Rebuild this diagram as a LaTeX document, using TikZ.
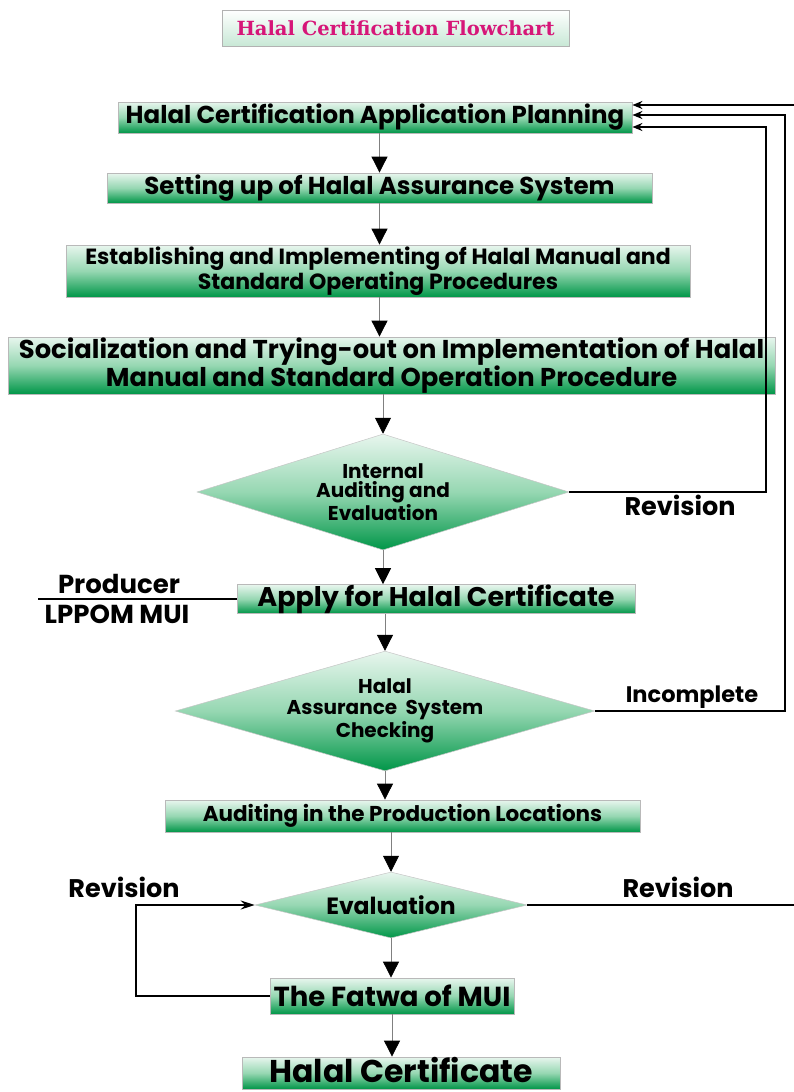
\documentclass[tikz,border=0pt]{standalone}
\usepackage{fontspec}
\setmainfont{Poppins}
\newfontfamily\titlefont{DejaVu Serif}
\usetikzlibrary{shapes.geometric,arrows.meta}
\definecolor{paleg}{RGB}{232,246,238}
\definecolor{midg}{RGB}{150,215,178}
\definecolor{darkg}{RGB}{0,150,72}
\definecolor{titlepink}{RGB}{214,22,120}
\definecolor{titleg}{RGB}{200,232,214}
\newcommand{\fsz}[2]{\bfseries\fontsize{#1}{#2}\selectfont}
\tikzset{
  stepbox/.style={draw=gray!55, line width=0.8pt, top color=paleg, bottom color=darkg, middle color=midg, inner sep=0pt, align=center},
  decision/.style={diamond, draw=gray!45, line width=0.5pt, top color=paleg, bottom color=darkg, middle color=midg, inner sep=0pt, align=center},
  flow/.style={draw=gray, line width=0.8pt, -{Triangle[length=16pt,width=16pt,color=black]}},
  back/.style={draw=black, line width=1.6pt, -{Stealth[length=10pt,width=8pt]}},
  lbl/.style={inner sep=0pt},
}

\begin{document}
\begin{tikzpicture}[x=1pt,y=-1pt]
\useasboundingbox[fill=white] (0,0) rectangle (793,1092);

\node[draw=gray!60, line width=0.8pt, top color=white, bottom color=titleg, minimum width=347, minimum height=36, inner sep=0pt,
      text=titlepink, font=\titlefont\bfseries\fontsize{19.5}{23}\selectfont] (title) at (395.5,28) {Halal Certification Flowchart};

% main chain
\node[stepbox, minimum width=514, minimum height=31, font=\fsz{24.5}{28}] (plan) at (375,117.5) {Halal Certification Application Planning};
\node[stepbox, minimum width=545, minimum height=30, font=\fsz{24.5}{28}] (setup) at (379.5,188) {Setting up of Halal Assurance System};
\node[stepbox, minimum width=624, minimum height=52, font=\fsz{22}{23}] (manual) at (378,271)
  {Establishing and Implementing of Halal Manual and\\Standard Operating Procedures};
\node[stepbox, minimum width=767, minimum height=57, font=\fsz{25.8}{25}] (social) at (391.5,365.5)
  {Socialization and Trying-out on Implementation of Halal\\Manual and Standard Operation Procedure};
\node[decision, shape aspect=3.2, minimum width=372, minimum height=116, font=\fsz{20}{19}] (internal) at (383,492)
  {Internal\\Auditing and\\Evaluation};
\node[stepbox, minimum width=398, minimum height=28, font=\fsz{27}{30}] (apply) at (436,599) {Apply for Halal Certificate};
\node[decision, shape aspect=3.5, minimum width=418, minimum height=118, font=\fsz{20}{21}] (check) at (385,711)
  {Halal\\Assurance~ System\\Checking};
\node[stepbox, minimum width=475, minimum height=32, font=\fsz{21.5}{25}] (audit) at (402.5,816) {Auditing in the Production Locations};
\node[decision, shape aspect=4.1, minimum width=272, minimum height=66, font=\fsz{23.5}{27}] (eval) at (391,905) {Evaluation};
\node[stepbox, minimum width=244, minimum height=36, font=\fsz{27.5}{31}] (fatwa) at (392,996) {The Fatwa of MUI};
\node[stepbox, minimum width=318, minimum height=32, text height=22, text depth=3, font=\fsz{31.5}{36}] (cert) at (401,1073) {Halal Certificate};

% labels
\node[lbl, font=\fsz{26}{30}] (producer) at (119,584) {Producer};
\node[lbl, font=\fsz{26}{30}] (lppom) at (117,614) {LPPOM MUI};
\node[lbl, font=\fsz{25.5}{30}] (rev1) at (680,505) {Revision};
\node[lbl, font=\fsz{22.5}{26}] (incomplete) at (692,697) {Incomplete};
\node[lbl, font=\fsz{25.5}{30}] (rev2) at (124,887) {Revision};
\node[lbl, font=\fsz{25.5}{30}] (rev3) at (678,887) {Revision};

\draw[flow] (plan.south -| setup) -- (setup.north);
\draw[flow] (setup.south) -- (setup.south |- manual.north);
\draw[flow] (setup.south |- manual.south) -- (setup.south |- social.north);
\draw[flow] (internal.north |- social.south) -- (internal.north);
\draw[flow] (internal.south) -- (internal.south |- apply.north);
\draw[flow] (check.north |- apply.south) -- (check.north);
\draw[flow] (check.south) -- (check.south |- audit.north);
\draw[flow] (eval.north |- audit.south) -- (eval.north);
\draw[flow] (eval.south) -- (eval.south |- fatwa.north);
\draw[flow] (fatwa.south) -- (fatwa.south |- cert.north);

% feedback loops
\coordinate (r1) at (766,127);
\coordinate (r2) at (785,115);
\coordinate (r3) at (800,105);
\coordinate (l1) at (136,905);
\coordinate (pl) at (38,599);
\draw[back] (internal.east) -| (r1) -- (r1 -| plan.east);
\draw[back] (check.east) -| (r2) -- (r2 -| plan.east);
\draw[back] (eval.east) -| (r3) -- (r3 -| plan.east);
\draw[back, -{Stealth[length=14pt,width=9pt]}] (fatwa.west) -| (l1) -- (eval.west);
\draw[line width=1.6pt] (pl) -- (apply.west);
\end{tikzpicture}
\end{document}
